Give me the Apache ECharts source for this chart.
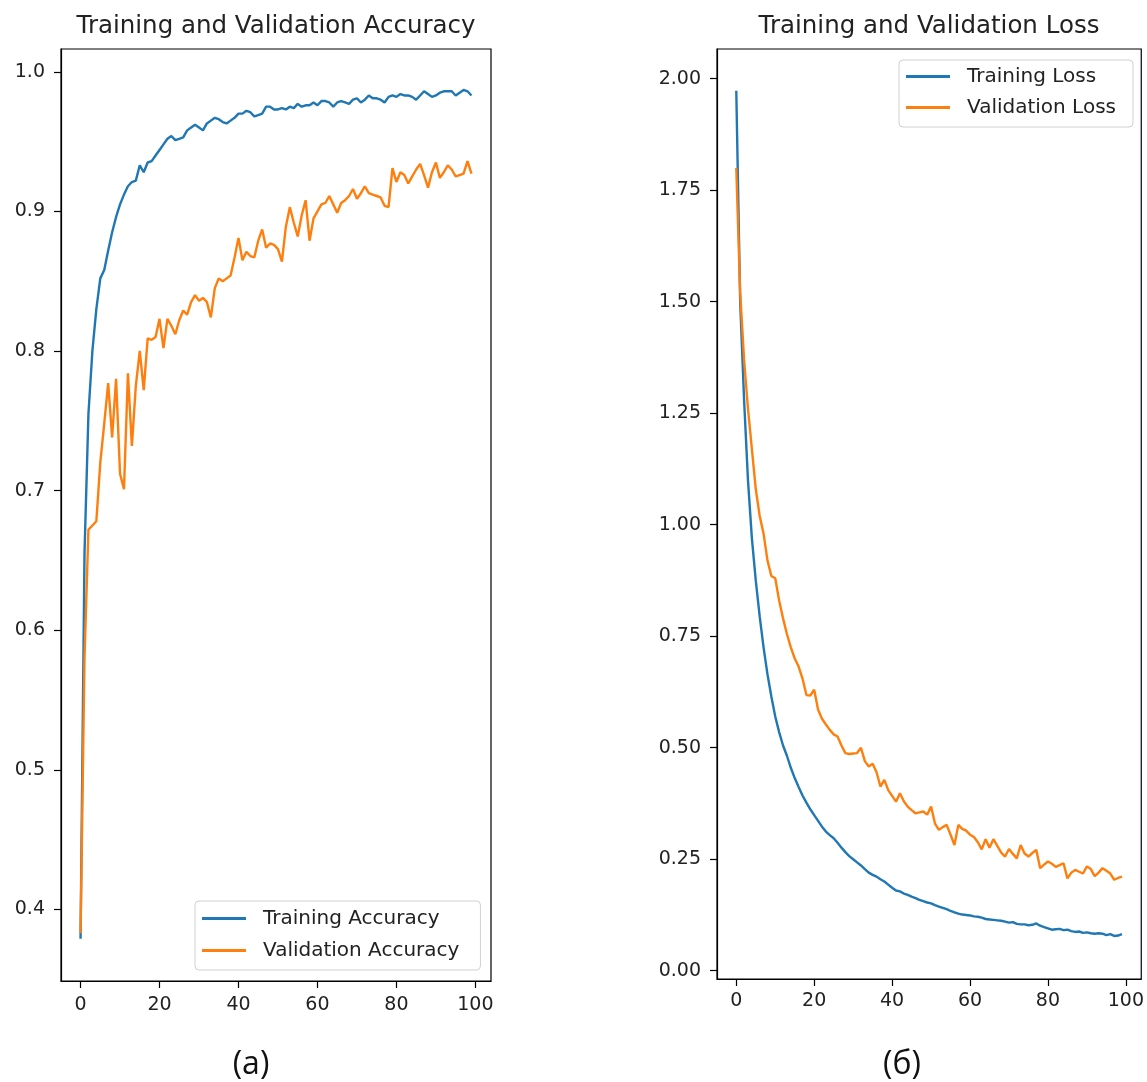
<!DOCTYPE html>
<html>
<head>
<meta charset="utf-8">
<script src="https://cdn.jsdelivr.net/npm/echarts@6/dist/echarts.min.js"></script>
<style>
  html, body { margin: 0; padding: 0; background: #fff; }
  #chart { width: 1147px; height: 1082px; }
</style>
</head>
<body>
<div id="chart"></div>
<script>
// epochs 0..99
const epochs = Array.from({ length: 100 }, (_, i) => i);

const trainAcc = [
  0.379, 0.655, 0.755, 0.800, 0.830, 0.852, 0.858, 0.872, 0.885, 0.896,
  0.905, 0.912, 0.918, 0.921, 0.922, 0.933, 0.928, 0.935, 0.936, 0.940,
  0.944, 0.948, 0.952, 0.954, 0.951, 0.952, 0.953, 0.958, 0.960, 0.962,
  0.960, 0.958, 0.963, 0.965, 0.967, 0.966, 0.964, 0.963, 0.965, 0.967,
  0.970, 0.970, 0.972, 0.971, 0.968, 0.969, 0.970, 0.975, 0.975, 0.973,
  0.973, 0.974, 0.973, 0.975, 0.974, 0.977, 0.975, 0.976, 0.976, 0.978,
  0.976, 0.979, 0.979, 0.978, 0.975, 0.978, 0.979, 0.978, 0.977, 0.980,
  0.981, 0.978, 0.980, 0.983, 0.981, 0.981, 0.980, 0.978, 0.982, 0.983,
  0.982, 0.984, 0.983, 0.983, 0.982, 0.980, 0.983, 0.986, 0.984, 0.982,
  0.983, 0.985, 0.986, 0.986, 0.986, 0.983, 0.985, 0.987, 0.986, 0.983
];

const valAcc = [
  0.383, 0.580, 0.672, 0.675, 0.678, 0.720, 0.748, 0.777, 0.738, 0.780,
  0.712, 0.701, 0.784, 0.732, 0.775, 0.800, 0.772, 0.809, 0.808, 0.810,
  0.823, 0.802, 0.823, 0.818, 0.812, 0.822, 0.829, 0.826, 0.835, 0.840,
  0.836, 0.838, 0.835, 0.824, 0.845, 0.852, 0.850, 0.852, 0.854, 0.867,
  0.881, 0.865, 0.871, 0.868, 0.867, 0.879, 0.887, 0.874, 0.877, 0.876,
  0.873, 0.864, 0.889, 0.903, 0.892, 0.882, 0.897, 0.908, 0.879, 0.895,
  0.900, 0.905, 0.906, 0.911, 0.905, 0.899, 0.906, 0.908, 0.911, 0.916,
  0.909, 0.913, 0.918, 0.913, 0.912, 0.911, 0.910, 0.904, 0.903, 0.931,
  0.921, 0.928, 0.926, 0.920, 0.925, 0.930, 0.934, 0.926, 0.917, 0.928,
  0.935, 0.924, 0.928, 0.933, 0.930, 0.925, 0.926, 0.927, 0.936, 0.927
];

const trainLoss = [
  1.973, 1.500, 1.280, 1.100, 0.970, 0.875, 0.795, 0.725, 0.665, 0.615,
  0.570, 0.535, 0.505, 0.482, 0.455, 0.432, 0.412, 0.393, 0.377, 0.362,
  0.349, 0.336, 0.323, 0.312, 0.304, 0.297, 0.287, 0.276, 0.266, 0.257,
  0.250, 0.243, 0.236, 0.228, 0.220, 0.215, 0.211, 0.205, 0.200, 0.193,
  0.186, 0.180, 0.178, 0.173, 0.170, 0.166, 0.163, 0.159, 0.156, 0.153,
  0.151, 0.147, 0.144, 0.141, 0.138, 0.134, 0.131, 0.128, 0.126, 0.125,
  0.124, 0.122, 0.121, 0.119, 0.116, 0.115, 0.114, 0.113, 0.112, 0.110,
  0.108, 0.109, 0.105, 0.104, 0.104, 0.102, 0.103, 0.106, 0.101, 0.098,
  0.095, 0.092, 0.093, 0.094, 0.091, 0.092, 0.089, 0.087, 0.088, 0.085,
  0.086, 0.084, 0.083, 0.084, 0.083, 0.080, 0.082, 0.078, 0.079, 0.082
];

const valLoss = [
  1.800, 1.520, 1.370, 1.260, 1.170, 1.080, 1.020, 0.980, 0.920, 0.885,
  0.880, 0.830, 0.790, 0.755, 0.725, 0.700, 0.682, 0.655, 0.618, 0.617,
  0.630, 0.585, 0.565, 0.552, 0.540, 0.530, 0.525, 0.505, 0.488, 0.486,
  0.487, 0.488, 0.500, 0.470, 0.458, 0.464, 0.445, 0.413, 0.428, 0.405,
  0.392, 0.379, 0.398, 0.380, 0.368, 0.360, 0.353, 0.355, 0.357, 0.350,
  0.368, 0.330, 0.316, 0.322, 0.327, 0.305, 0.282, 0.327, 0.318, 0.314,
  0.305, 0.300, 0.288, 0.272, 0.295, 0.276, 0.295, 0.280, 0.265, 0.256,
  0.273, 0.262, 0.252, 0.282, 0.263, 0.256, 0.264, 0.271, 0.230, 0.238,
  0.245, 0.240, 0.233, 0.237, 0.241, 0.207, 0.220, 0.226, 0.222, 0.218,
  0.234, 0.228, 0.212, 0.220, 0.230, 0.224, 0.218, 0.204, 0.208, 0.211
];

const xTicks = [0, 20, 40, 60, 80, 100];
const accTicks = [0.4, 0.5, 0.6, 0.7, 0.8, 0.9, 1.0];
const lossTicks = [0, 0.25, 0.5, 0.75, 1.0, 1.25, 1.5, 1.75, 2.0];

const BLUE = '#1f77b4';
const ORANGE = '#ff7f0e';
const FONT = 'DejaVu Sans';
const TXT = '#222';

function pairs(vals) {
  return epochs.map((e, i) => [e, vals[i]]);
}

function xAxisCfg(gridIndex, margin) {
  return {
    type: 'value', gridIndex: gridIndex,
    min: -4.95, max: 103.95,
    splitLine: { show: false },
    axisLine: { show: true, onZero: false, lineStyle: { color: '#000', width: 1.2 } },
    axisTick: { show: true, inside: false, length: 7, customValues: xTicks, lineStyle: { color: '#000', width: 1.2 } },
    axisLabel: { customValues: xTicks, margin: margin, color: TXT, fontFamily: FONT, fontSize: 19 }
  };
}

function yAxisCfg(gridIndex, min, max, ticks, digits) {
  return {
    type: 'value', gridIndex: gridIndex,
    min: min, max: max,
    splitLine: { show: false },
    axisLine: { show: true, onZero: false, lineStyle: { color: '#000', width: 1.2 } },
    axisTick: { show: true, inside: false, length: 7, customValues: ticks, lineStyle: { color: '#000', width: 1.2 } },
    axisLabel: {
      customValues: ticks, margin: 16, color: TXT, fontFamily: FONT, fontSize: 19,
      formatter: v => v.toFixed(digits)
    }
  };
}

function lineSeries(name, vals, color, idx) {
  return {
    name: name, type: 'line', data: pairs(vals),
    xAxisIndex: idx, yAxisIndex: idx,
    showSymbol: false, symbol: 'none',
    lineStyle: { color: color, width: 2.4 },
    itemStyle: { color: color },
    emphasis: { disabled: true }
  };
}

function legendCfg(names, left, top, padding, gap) {
  return {
    data: names, orient: 'vertical', left: left, top: top,
    icon: 'rect', itemWidth: 44, itemHeight: 3, itemGap: gap,
    padding: padding,
    backgroundColor: 'rgba(255,255,255,0.85)',
    borderColor: '#d0d0d0', borderWidth: 1, borderRadius: 4,
    selectedMode: false,
    textStyle: { color: TXT, fontFamily: FONT, fontSize: 20, lineHeight: 21, padding: [0, 0, 0, 12] }
  };
}

const chart = echarts.init(document.getElementById('chart'), null, { renderer: 'canvas' });
chart.setOption({
  animation: false,
  backgroundColor: '#fff',
  grid: [
    { left: 61, top: 49, width: 430, height: 932, show: true, borderColor: '#000', borderWidth: 1.2, backgroundColor: 'transparent' },
    { left: 717, top: 49, width: 426, height: 930, show: true, borderColor: '#000', borderWidth: 1.2, backgroundColor: 'transparent' }
  ],
  xAxis: [xAxisCfg(0, 15), xAxisCfg(1, 13)],
  yAxis: [
    yAxisCfg(0, 0.3487, 1.0163, accTicks, 1),
    yAxisCfg(1, -0.0185, 2.0665, lossTicks, 2)
  ],
  legend: [
    legendCfg(['Training Accuracy', 'Validation Accuracy'], 195, 901, [7, 21, 9, 7], 11),
    legendCfg(['Training Loss', 'Validation Loss'], 899, 60, [6, 17, 9, 7], 10)
  ],
  graphic: [
    { type: 'text', x: 276, y: 14, style: { text: 'Training and Validation Accuracy', textAlign: 'center', textVerticalAlign: 'top', font: '24.5px "DejaVu Sans"', fill: TXT } },
    { type: 'text', x: 929, y: 14, style: { text: 'Training and Validation Loss', textAlign: 'center', textVerticalAlign: 'top', font: '24.5px "DejaVu Sans"', fill: TXT } },
    { type: 'text', x: 251, y: 1049, style: { text: '(a)', textAlign: 'center', textVerticalAlign: 'top', font: '32px "Open Sans"', fill: '#111' } },
    { type: 'text', x: 902, y: 1049, style: { text: '(б)', textAlign: 'center', textVerticalAlign: 'top', font: '32px "Open Sans"', fill: '#111' } }
  ],
  series: [
    lineSeries('Training Accuracy', trainAcc, BLUE, 0),
    lineSeries('Validation Accuracy', valAcc, ORANGE, 0),
    lineSeries('Training Loss', trainLoss, BLUE, 1),
    lineSeries('Validation Loss', valLoss, ORANGE, 1)
  ]
});
</script>
</body>
</html>
